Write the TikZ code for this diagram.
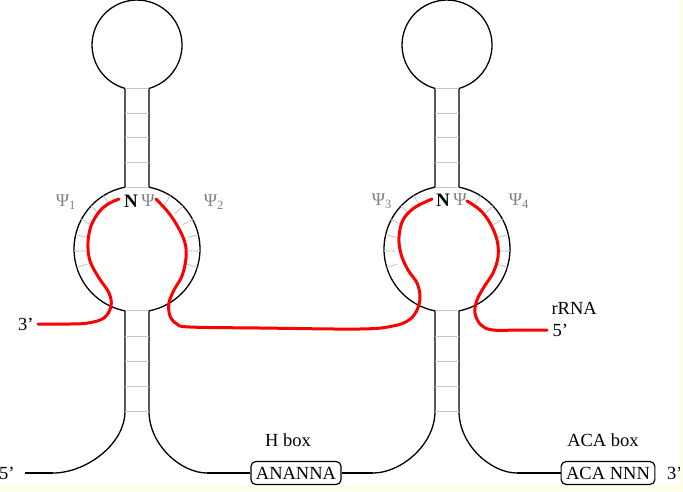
\documentclass[tikz,border=0pt]{standalone}
\usepackage{fontspec}
\setmainfont{Liberation Serif}
\usetikzlibrary{positioning}
\definecolor{paleyellow}{RGB}{255,255,230}
\colorlet{rungcolor}{gray!45}

\begin{document}
\begin{tikzpicture}[x=1pt, y=-1pt,
    strand/.style={draw=black, line width=1.3pt},
    rung/.style={draw=rungcolor, line width=0.9pt},
    rna/.style={draw=red, line width=3pt, line cap=round},
    seqbox/.style={draw, rounded corners=5pt, line width=1.2pt,
      minimum height=23pt, inner xsep=5pt, inner ysep=3pt,
      font=\fontsize{18.5}{20}\selectfont},
    lbl/.style={font=\fontsize{18.5}{20}\selectfont},
    psi/.style={text=gray, font=\fontsize{18}{19}\selectfont}]

  \useasboundingbox (0,0) rectangle (683,491);
  \fill[white] (0,0) rectangle (683,491);

  % HAIRPINS

  \foreach \c/\w/\n in {137/72/one, 447/62/two} {
    \draw[strand] (\c-12,88.4) arc[start angle=105.5, end angle=434.5, radius=45];
    \draw[strand] (\c-12,88.4) -- (\c-12,187.2)
      arc[start angle=259, end angle=101, radius=63] -- (\c-12,411)
      .. controls (\c-12,445) and (\c-12-0.552*\w,473) .. (\c-12-\w,473)
      coordinate (\n-left);
    \draw[strand] (\c+12,88.4) -- (\c+12,187.2)
      arc[start angle=281, end angle=439, radius=63] -- (\c+12,411)
      .. controls (\c+12,445) and (\c+12+0.552*58,473) .. (\c+70,473)
      coordinate (\n-right);
    \foreach \y in {88.4,113,137.5,162,187.2,310.9,336,361,386,411}
      \draw[rung] (\c-12,\y) -- (\c+12,\y);
    \foreach \a in {163,178,193,208,223,238,302,317,332,347,362,377}
      \draw[rung] (\c,249) ++(\a:52) -- ++(\a:11);
  }

  % BOXES

  \coordinate (fiveend) at (25,473);
  \node[seqbox] (hbox) at (296,473) {ANANNA};
  \node[seqbox] (acabox) at (608,473) {ACA NNN};
  \node[lbl, above=11pt of hbox, xshift=-8pt] (htitle) {H box};
  \node[lbl, above=11pt of acabox, xshift=-5pt] (acatitle) {ACA box};
  \node[lbl, left=7pt of fiveend] (fiveprime) {5'};
  \node[lbl, right=8pt of acabox] (threeprime) {3'};

  \draw[strand] (fiveend) -- (one-left);
  \draw[strand] (one-right) -- (hbox);
  \draw[strand] (hbox) -- (two-left);
  \draw[strand] (two-right) -- (acabox);

  % rRNA

  \coordinate (rnathree) at (38,324);
  \coordinate (rnafive) at (547,330);
  \draw[rna] plot[smooth, tension=0.6] coordinates {(38,324) (70,324) (88,323)
    (104,318) (111,306) (109,293) (99,278) (90,261) (88,243) (91,226) (99,212)
    (108,204) (119,199)};
  \draw[rna] plot[smooth, tension=0.6] coordinates {(156,199) (168,212) (178,227)
    (185,243) (186,258) (182,276) (174,290) (169,303) (170,316) (177,324) (190,327)
    (260,328) (360,329) (393,326) (409,320) (417,310) (420,297) (417,283) (408,270)
    (401,254) (399,237) (403,220) (414,208) (432,199)};
  \draw[rna] plot[smooth, tension=0.6] coordinates {(467,201) (480,210) (490,223)
    (497,240) (498,257) (493,273) (484,287) (477,300) (475,313) (481,325) (493,330)
    (520,330) (547,330)};
  \node[lbl, left=1pt of rnathree] (threerna) {3'};
  \node[lbl, right=2pt of rnafive] (fiverna) {5'};
  \node[lbl, anchor=south west] (rrna) at (548,318) {rRNA};

  % PSEUDOURIDINES

  \node[font=\bfseries\fontsize{19}{20}\selectfont] (none) at (131,201) {N};
  \node[psi] (psia) at (148,201) {Ψ};
  \node[font=\bfseries\fontsize{19}{20}\selectfont] (ntwo) at (443,200) {N};
  \node[psi] (psib) at (460,200) {Ψ};
  \node[psi] (psione) at (66,202) {Ψ\textsubscript{1}};
  \node[psi] (psitwo) at (214,202) {Ψ\textsubscript{2}};
  \node[psi] (psithree) at (382,201) {Ψ\textsubscript{3}};
  \node[psi] (psifour) at (519,201) {Ψ\textsubscript{4}};

  \fill[paleyellow] (680,0) rectangle (683,491);
  \fill[paleyellow] (0,486) rectangle (683,491);
\end{tikzpicture}
\end{document}
